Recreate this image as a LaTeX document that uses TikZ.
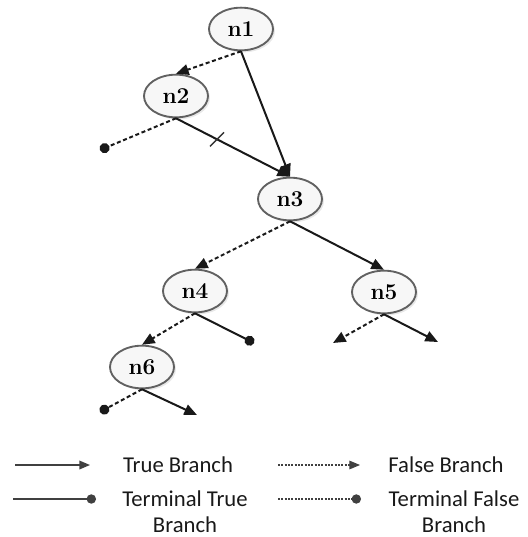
\documentclass[tikz,border=0pt]{standalone}
\usepackage{fontspec}
\newfontfamily\legendfont{Carlito}
\usetikzlibrary{positioning,arrows.meta,calc,shadows,shapes.geometric}

\begin{document}
\begin{tikzpicture}[
  x=0.75pt, y=-0.75pt,
  tnode/.style={ellipse, draw=black!62, line width=1.4pt, fill=gray!6,
                minimum width=48pt, minimum height=32pt, inner sep=0pt,
                font=\fontsize{17}{20}\selectfont\bfseries,
                drop shadow={shadow xshift=1.5pt, shadow yshift=-1.5pt, fill=gray!35}},
  tbr/.style={-{Triangle[length=9.5pt,width=8pt]}, line width=1.5pt, black!90},
  fbr/.style={tbr, dash pattern=on 3pt off 2pt},
  ttbr/.style={-{Circle[length=7.5pt]}, line width=1.5pt, black!90},
  tfbr/.style={ttbr, dash pattern=on 3pt off 2pt},
  ltbr/.style={-{Triangle[length=8pt,width=6.5pt]}, line width=1.1pt, black!75},
  lfbr/.style={ltbr, line width=0.8pt, dash pattern=on 1.5pt off 1pt},
  lttbr/.style={-{Circle[length=7pt]}, line width=1.1pt, black!75},
  ltfbr/.style={lttbr, line width=0.8pt, dash pattern=on 1.5pt off 1pt},
  legend/.style={font=\legendfont\fontsize{17}{19.5}\selectfont, text=black!90,
                 align=center, inner sep=0pt},
]
\useasboundingbox (0,0) rectangle (528,537);

% tree nodes
\node[tnode] (n1) at (241,29) {n1};
\node[tnode] (n2) at (176,96) {n2};
\node[tnode] (n3) at (290,199) {n3};
\node[tnode] (n4) at (195,291) {n4};
\node[tnode] (n5) at (384,292) {n5};
\node[tnode] (n6) at (142,367) {n6};

% loose ends
\coordinate (e2) at (100,150);
\coordinate (e4) at (254,343);
\coordinate (f5) at (333,343);
\coordinate (t5) at (438,342);
\coordinate (e6) at (100,412);
\coordinate (t6) at (197,415);

% branches
\draw[fbr] (n1.south) -- (n2.north);
\draw[tbr] (n1.south) -- (n3.north);
\draw[tfbr] (n2.south) -- (e2);
\draw[tbr] (n2.south) -- coordinate[pos=.36] (cut) (n3.north);
\draw[line width=1pt, black!80] ($(cut)+(-7,7)$) -- ($(cut)+(7,-7)$);
\draw[fbr] (n3.south) -- (n4.north);
\draw[tbr] (n3.south) -- (n5.north);
\draw[fbr] (n4.south) -- (n6.north);
\draw[ttbr] (n4.south) -- (e4);
\draw[fbr] (n5.south) -- (f5);
\draw[tbr] (n5.south) -- (t5);
\draw[tfbr] (n6.south) -- (e6);
\draw[tbr] (n6.south) -- (t6);

% legend
\coordinate (la1) at (15,465);  \coordinate (lb1) at (90,465);
\coordinate (la2) at (278,465); \coordinate (lb2) at (360,465);
\coordinate (la3) at (13,499);  \coordinate (lb3) at (96,499);
\coordinate (la4) at (278,499); \coordinate (lb4) at (361,499);
\draw[ltbr] (la1) -- (lb1);
\draw[lfbr] (la2) -- (lb2);
\draw[lttbr] (la3) -- (lb3);
\draw[ltfbr] (la4) -- (lb4);
\node[legend] (k1) at (178,465) {True Branch};
\node[legend] (k2) at (446,465) {False Branch};
\node[legend] (k3) at (185,512) {Terminal True\\Branch};
\node[legend] (k4) at (454,512) {Terminal False\\Branch};
\end{tikzpicture}
\end{document}
